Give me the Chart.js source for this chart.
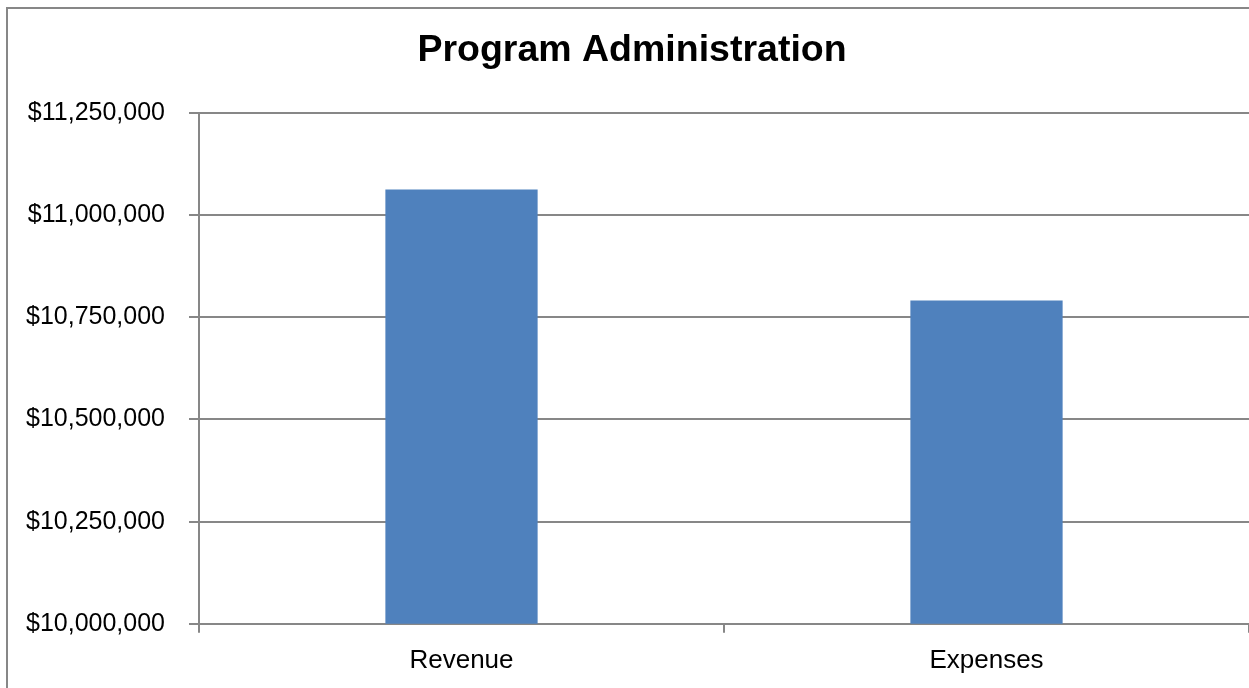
<!DOCTYPE html>
<html>
<head>
<meta charset="utf-8">
<title>Program Administration</title>
<script src="https://cdn.jsdelivr.net/npm/chart.js@4/dist/chart.umd.min.js"></script>
<style>
  html, body { margin: 0; padding: 0; background: #fff; overflow: hidden; }
  #wrap { position: relative; width: 1249px; height: 688px; }
</style>
</head>
<body>
<div id="wrap"><canvas id="grafico"></canvas></div>
<script>
const categories = ['Revenue', 'Expenses'];
const amounts = [11063000, 10791000];
const yTicks = [10000000, 10250000, 10500000, 10750000, 11000000, 11250000];

const gray = '#878787';

// outer chart frame, cropped on the right and bottom in the original
const frame = {
    id: 'frame',
    beforeDraw(chart) {
        const c = chart.ctx;
        c.save();
        c.fillStyle = '#fff';
        c.fillRect(0, 0, chart.width, chart.height);
        c.strokeStyle = gray;
        c.lineWidth = 2;
        c.strokeRect(7, 8, chart.width + 20, chart.height + 20);
        c.restore();
    }
};

document.addEventListener("DOMContentLoaded", function () {

    const ctx = document.getElementById('grafico');

    new Chart(ctx, {
        type: 'bar',
        data: {
            labels: categories,
            datasets: [
                {
                    label: 'Program Administration',
                    data: amounts,
                    backgroundColor: '#4F81BD',
                    borderWidth: 0,
                    barPercentage: 0.29,
                    categoryPercentage: 1
                }
            ]
        },
        options: {
            responsive: true,
            maintainAspectRatio: false,
            animation: false,
            layout: { padding: { left: 15, right: 0, top: 0, bottom: 0 } },
            plugins: {
                legend: { display: false },
                tooltip: { enabled: false },
                title: {
                    display: true,
                    text: 'Program Administration',
                    color: '#000',
                    font: { family: 'Liberation Sans, Arial, sans-serif', size: 37.5, weight: 'bold' },
                    padding: { top: 28, bottom: 40 }
                }
            },
            scales: {
                x: {
                    grid: {
                        display: true,
                        offset: true,
                        drawOnChartArea: false,
                        drawTicks: true,
                        tickLength: 9,
                        color: gray,
                        lineWidth: 2
                    },
                    border: { display: true, color: gray, width: 2 },
                    ticks: {
                        color: '#000',
                        padding: 12,
                        font: { family: 'Liberation Sans, Arial, sans-serif', size: 26 }
                    }
                },
                y: {
                    min: yTicks[0],
                    max: yTicks[yTicks.length - 1],
                    afterFit(scale) { scale.width = 184; },
                    afterBuildTicks(scale) { scale.ticks = yTicks.map(v => ({ value: v })); },
                    grid: {
                        color: gray,
                        lineWidth: 2,
                        tickLength: 10
                    },
                    border: { display: true, color: gray, width: 2 },
                    ticks: {
                        color: '#000',
                        padding: 24,
                        font: { family: 'Liberation Sans, Arial, sans-serif', size: 25 },
                        callback: v => '$' + Number(v).toLocaleString('en-US')
                    }
                }
            }
        },
        plugins: [frame]
    });

});
</script>
</body>
</html>
